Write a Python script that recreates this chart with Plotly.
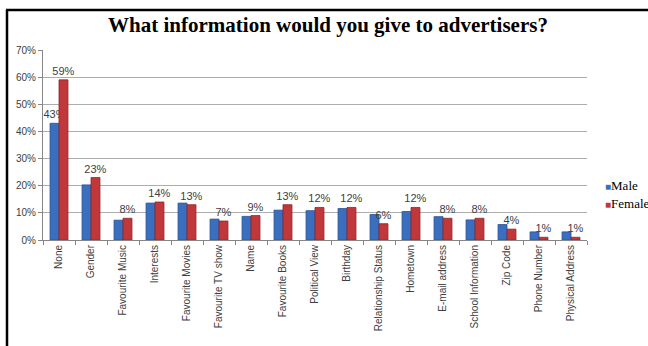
import plotly.graph_objects as go

# Survey answers: share of respondents willing to give each item to advertisers (%)
categories = [
    "None", "Gender", "Favourite Music", "Interests", "Favourite Movies",
    "Favourite TV show", "Name", "Favourite Books", "Political View", "Birthday",
    "Relationship Status", "Hometown", "E-mail address", "School Information",
    "Zip Code", "Phone Number", "Physical Address",
]
male = [43, 20.3, 7.3, 13.6, 13.6, 7.7, 8.7, 11.0, 10.8, 11.6, 9.4, 10.5, 8.6, 7.4, 5.7, 3.0, 3.0]
female = [59, 23, 8, 14, 13, 7, 9, 13, 12, 12, 6, 12, 8, 8, 4, 1, 1]

series_names = ["Male", "Female"]
series_colors = ["#3A6FBF", "#C2373A"]
series_edges = ["#2A5296", "#8E2426"]

# Only the "None" male bar carries a value label; every female bar is labelled
male_labels = [f"{v:g}%" if c == "None" else "" for c, v in zip(categories, male)]
female_labels = [f"{v:g}%" for v in female]

label_font = dict(family="Liberation Sans, Arial, sans-serif", size=11, color="#404040")

fig = go.Figure()
for name, vals, labels, col, edge in zip(series_names, [male, female],
                                         [male_labels, female_labels],
                                         series_colors, series_edges):
    fig.add_trace(go.Bar(
        name=name, x=categories, y=vals, text=labels,
        textposition="outside", cliponaxis=False, constraintext="none",
        textfont=label_font,
        marker=dict(color=col, line=dict(color=edge, width=0.8)),
    ))

W, H = 648, 346
ml, mr, mt, mb = 43, 61, 50, 106
pw, ph = W - ml - mr, H - mt - mb


def px_x(x):
    return (x - ml) / pw


def px_y(y):
    return (H - mb - y) / ph


# Legend drawn as small coloured squares beside serif labels
legend_notes = []
for i, (name, col) in enumerate(zip(series_names, series_colors)):
    legend_notes.append(dict(
        text=f"<span style='color:{col};font-size:10px'>■</span>{name}",
        xref="paper", yref="paper", x=px_x(603), y=px_y(185 + 18 * i),
        xanchor="left", yanchor="middle", showarrow=False,
        font=dict(family="Liberation Serif, Times New Roman, serif", size=13, color="#000000"),
    ))

fig.update_layout(
    width=W, height=H,
    margin=dict(l=ml, r=mr, t=mt, b=mb),
    paper_bgcolor="white", plot_bgcolor="white",
    barmode="group", bargap=0.44, bargroupgap=0.0,
    showlegend=False,
    title=dict(
        text="<b>What information would you give to advertisers?</b>",
        font=dict(family="Liberation Serif, Times New Roman, serif", size=21, color="#000000"),
        x=px_x(328), xref="paper", xanchor="center",
        y=1 - 25 / H, yref="container", yanchor="middle",
    ),
    font=dict(family="Liberation Sans, Arial, sans-serif", size=10, color="#404040"),
    xaxis=dict(
        type="category", tickangle=-90, tickson="boundaries",
        ticks="outside", ticklen=4, tickcolor="#868686",
        showline=True, linecolor="#868686", linewidth=1,
        showgrid=False,
        tickfont=dict(family="Liberation Sans, Arial, sans-serif", size=10, color="#404040"),
    ),
    yaxis=dict(
        range=[0, 70], dtick=10, ticksuffix="%",
        ticks="outside", ticklen=4, tickcolor="#868686",
        showline=True, linecolor="#868686", linewidth=1,
        showgrid=True, gridcolor="#ADADAD", gridwidth=1,
        zeroline=False,
        tickfont=dict(family="Liberation Sans, Arial, sans-serif", size=10, color="#404040"),
    ),
    annotations=legend_notes,
    shapes=[
        # frame around the chart (left and top edges)
        dict(type="line", xref="paper", yref="paper",
             x0=px_x(7), x1=px_x(7), y0=px_y(H + 2), y1=px_y(10),
             line=dict(color="#000000", width=2.5)),
        dict(type="line", xref="paper", yref="paper",
             x0=px_x(6), x1=px_x(W + 2), y0=px_y(10), y1=px_y(10),
             line=dict(color="#000000", width=2.5)),
    ],
)

fig.write_html("out.html")
